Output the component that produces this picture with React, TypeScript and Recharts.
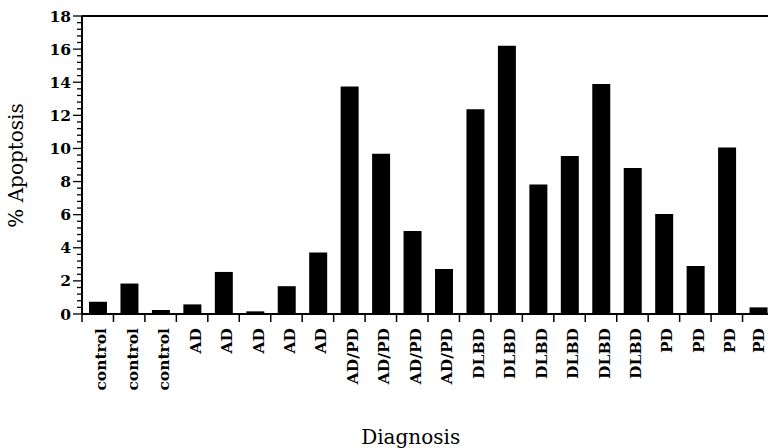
import React from 'react';
import { BarChart, Bar, XAxis, YAxis, ReferenceLine, Label } from 'recharts';

const categories = ['control','control','control','AD','AD','AD','AD','AD','AD/PD','AD/PD','AD/PD','AD/PD','DLBD','DLBD','DLBD','DLBD','DLBD','DLBD','PD','PD','PD','PD'];
const apoptosis = [0.74,1.84,0.24,0.58,2.54,0.16,1.68,3.72,13.74,9.68,5.02,2.72,12.36,16.2,7.82,9.54,13.9,8.82,6.04,2.9,10.06,0.4];
const yMajorTicks = [0,2,4,6,8,10,12,14,16,18];
const yMinorStep = 0.4;

const data = categories.map((c, i) => ({ id: i, diagnosis: c, value: apoptosis[i] }));

const allYTicks: number[] = [];
for (let i = 0; i < yMajorTicks.length - 1; i++) {
  const a = yMajorTicks[i];
  allYTicks.push(a);
  for (let k = 1; k < 5; k++) allYTicks.push(+(a + k * yMinorStep).toFixed(2));
}
allYTicks.push(yMajorTicks[yMajorTicks.length - 1]);

const VIEW_W = 768;
const CHART_W = 780;
const CHART_H = 448;
const LEFT = 82;
const RIGHT_M = 6;
const BAND = (CHART_W - RIGHT_M - LEFT) / categories.length;
const FONT = '"DejaVu Serif", serif';

const XTick = (props: any) => {
  const { x, y, payload } = props;
  const label = categories[payload.index] ?? '';
  const bx = x - BAND / 2;
  const tx = Math.min(x + 8.5, VIEW_W - 4);
  return (
    <g>
      <line x1={bx} y1={y} x2={bx} y2={y + 8} stroke="#000" strokeWidth={1.5} />
      <text
        transform={`translate(${tx},${y + 14}) rotate(-90)`}
        textAnchor="end"
        fontFamily={FONT}
        fontWeight="bold"
        fontSize={15.5}
        fill="#000"
      >
        {label}
      </text>
    </g>
  );
};

const YTick = (props: any) => {
  const { x, y, payload } = props;
  const v = payload.value;
  const major = yMajorTicks.includes(v);
  return (
    <g>
      <line x1={x - (major ? 9 : 5)} y1={y} x2={x} y2={y} stroke="#000" strokeWidth={1.3} />
      {major && (
        <text x={x - 11} y={y} dy="0.36em" textAnchor="end" fontFamily={FONT} fontWeight="bold" fontSize={15.5} fill="#000">
          {v}
        </text>
      )}
    </g>
  );
};

export default function App() {
  return (
    <div style={{ position: 'absolute', left: 0, top: 0, width: VIEW_W, height: 448, overflow: 'hidden', background: '#fff' }}>
      <BarChart width={CHART_W} height={CHART_H} data={data} margin={{ top: 16, right: RIGHT_M, left: 0, bottom: 0 }}>
        <XAxis
          dataKey="id"
          type="category"
          height={134}
          interval={0}
          tickLine={false}
          tickSize={0}
          tickMargin={0}
          tick={<XTick />}
          axisLine={{ stroke: '#000', strokeWidth: 2 }}
        >
          <Label
            content={() => (
              <text x={410.7} y={444} textAnchor="middle" fontFamily={FONT} fontSize={20} fill="#000">
                Diagnosis
              </text>
            )}
          />
        </XAxis>
        <YAxis
          type="number"
          domain={[0, 18]}
          ticks={allYTicks}
          interval={0}
          width={LEFT}
          tickLine={false}
          tickSize={0}
          tickMargin={0}
          tick={<YTick />}
          axisLine={{ stroke: '#000', strokeWidth: 2 }}
        >
          <Label
            content={() => (
              <text transform="translate(23,165.5) rotate(-90)" textAnchor="middle" fontFamily={FONT} fontSize={20} fill="#000">
                % Apoptosis
              </text>
            )}
          />
        </YAxis>
        <ReferenceLine y={18} stroke="#000" strokeWidth={2} ifOverflow="visible" />
        <Bar dataKey="value" fill="#000" barSize={18} isAnimationActive={false} />
      </BarChart>
    </div>
  );
}
